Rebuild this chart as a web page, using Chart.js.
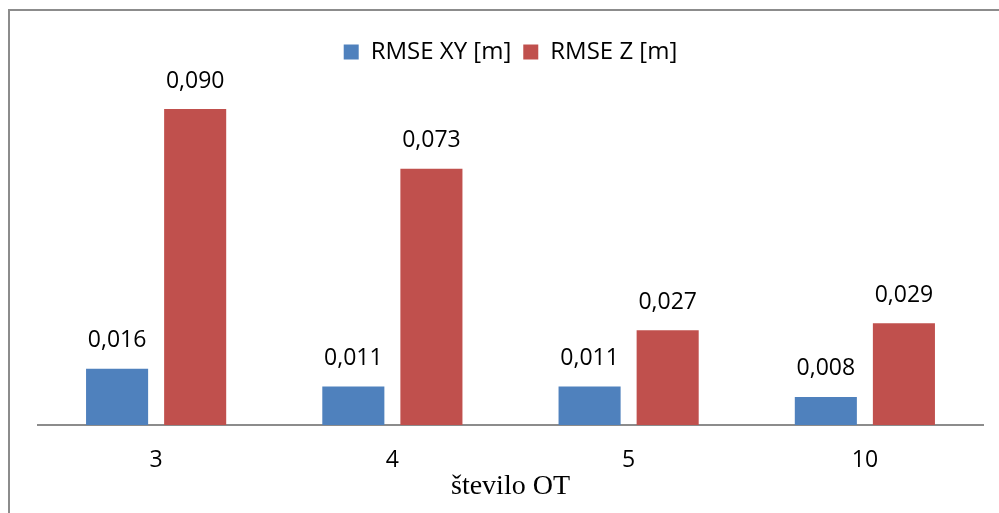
<!DOCTYPE html>
<html>
<head>
<meta charset="utf-8">
<script src="https://cdn.jsdelivr.net/npm/chart.js@4/dist/chart.umd.min.js"></script>
<style>
	html, body { margin: 0; padding: 0; background: #fff; }
	#wrap { position: relative; width: 999px; height: 513px; overflow: hidden; }
	#frame {
		position: absolute; left: 8px; top: 9px; right: -10px; bottom: -10px;
		border-left: 2px solid #8c8c8c; border-top: 2px solid #8c8c8c;
		pointer-events: none;
	}
	canvas { position: absolute; left: 0; top: 0; }
</style>
</head>
<body>
<div id="wrap">
	<canvas id="chart" width="999" height="513"></canvas>
	<div id="frame"></div>
</div>
<script>
// ── Data ──────────────────────────────────────────────
const categories = [ '3', '4', '5', '10' ];
const rmseXY     = [ 0.016, 0.011, 0.011, 0.008 ];
const rmseZ      = [ 0.090, 0.073, 0.027, 0.029 ];
const seriesNames = [ 'RMSE XY [m]', 'RMSE Z [m]' ];

const colors = {
	xy   : '#4f81bd',
	z    : '#c0504d',
	axis : '#8c8c8c',
	text : '#000000',
};

const sansFont = "'Open Sans', 'Noto Sans', sans-serif";

// value labels above every bar, comma as decimal separator
const valueLabels = {
	id: 'valueLabels',
	afterDatasetsDraw( chart ) {
		const ctx = chart.ctx;
		ctx.save();
		ctx.font = '23px ' + sansFont;
		ctx.fillStyle = colors.text;
		ctx.textAlign = 'center';
		ctx.textBaseline = 'middle';
		chart.data.datasets.forEach( ( ds, i ) => {
			chart.getDatasetMeta( i ).data.forEach( ( bar, j ) => {
				const txt = ds.data[ j ].toFixed( 3 ).replace( '.', ',' );
				ctx.fillText( txt, bar.x, bar.y - 28 );
			} );
		} );
		ctx.restore();
	},
};

Chart.defaults.font.family = sansFont;
Chart.defaults.color = colors.text;

new Chart( document.getElementById( 'chart' ), {
	type: 'bar',
	data: {
		labels: categories,
		datasets: [
			{
				label           : seriesNames[ 0 ],
				data            : rmseXY,
				backgroundColor : colors.xy,
				borderWidth     : 0,
			},
			{
				label           : seriesNames[ 1 ],
				data            : rmseZ,
				backgroundColor : colors.z,
				borderWidth     : 0,
			},
		],
	},
	options: {
		responsive : false,
		animation  : false,
		datasets: {
			bar: {
				categoryPercentage : 0.661,
				barPercentage      : 0.795,
			},
		},
		layout: {
			padding: { left: 38, right: 16, top: 28, bottom: 10 },
		},
		plugins: {
			legend: {
				position : 'top',
				labels: {
					boxWidth  : 15,
					boxHeight : 15,
					padding   : 12,
					font      : { size: 24 },
					color     : colors.text,
				},
			},
			tooltip: { enabled: false },
		},
		scales: {
			x: {
				grid   : { display: false, drawTicks: false },
				border : { display: true, color: colors.axis, width: 2 },
				ticks  : {
					padding : 22,
					color   : colors.text,
					font    : { size: 23 },
				},
				title: {
					display : true,
					text    : 'število OT',
					color   : colors.text,
					font    : { family: "'Liberation Serif', 'Times New Roman', serif", size: 28 },
					padding : { top: 0, bottom: 0 },
				},
				afterFit( scale ) {
					scale.height = 78;
				},
			},
			y: {
				display     : false,
				min         : 0,
				max         : 0.1,
			},
		},
	},
	plugins: [ valueLabels ],
} );
</script>
</body>
</html>
